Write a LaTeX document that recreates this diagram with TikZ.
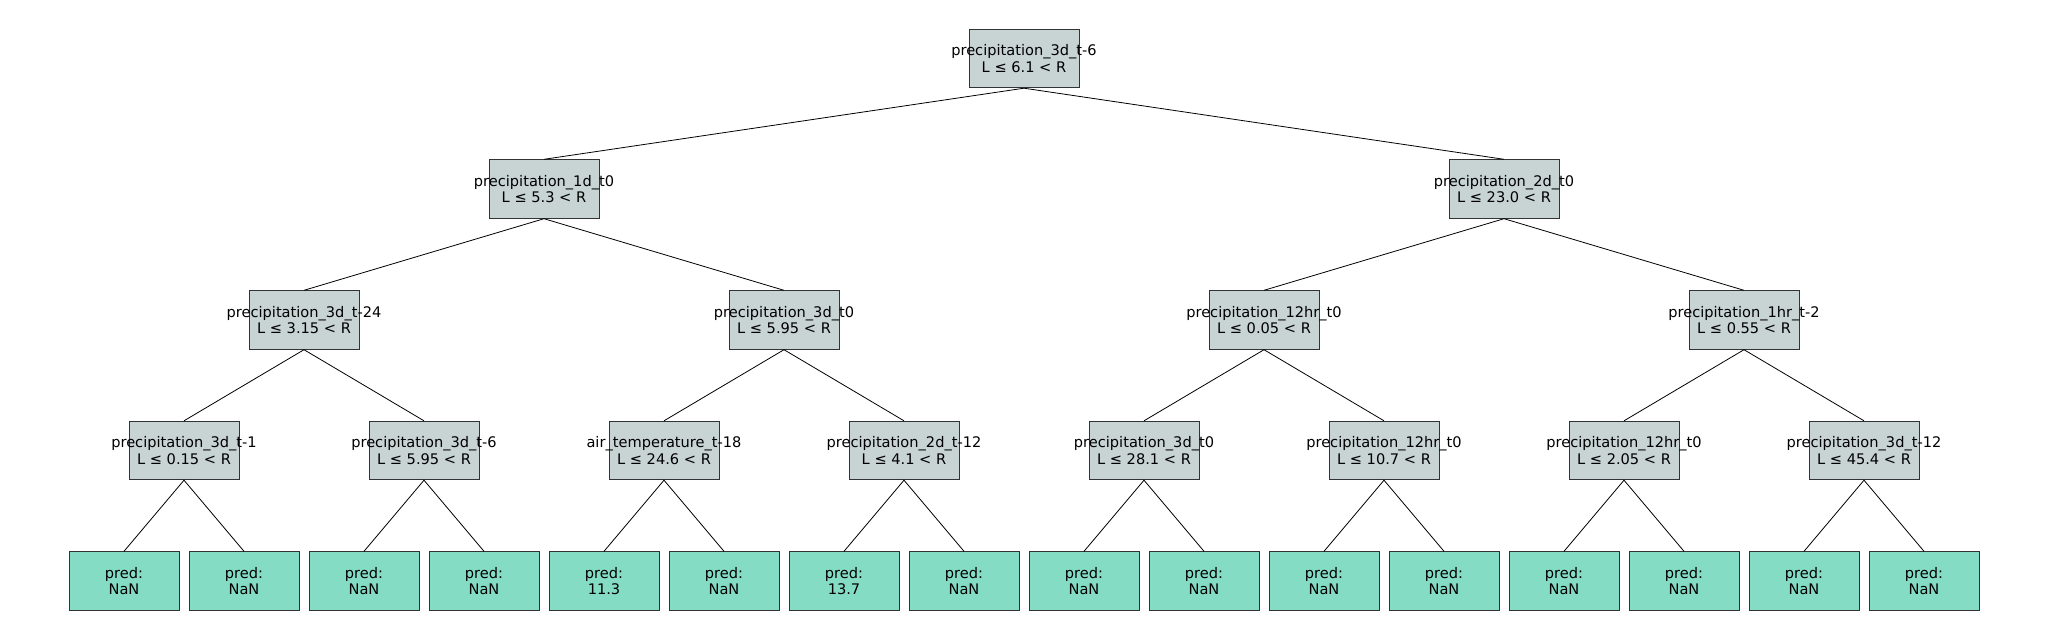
\documentclass[tikz,border=0pt]{standalone}
\usepackage{fontspec}
\setmainfont{DejaVu Sans}
\definecolor{splitgray}{RGB}{200,211,212}
\definecolor{leafteal}{RGB}{133,220,197}
\newcommand{\splittext}[2]{\makebox[0pt]{#1}\\\makebox[0pt]{L ≤ #2 < R}}
\tikzset{
	splitbox/.style={draw=black!80,fill=splitgray,line width=0.9pt,minimum width=110pt,minimum height=58.5pt,inner sep=0pt,align=center,font=\fontsize{14.6}{16.5}\selectfont},
	leafbox/.style={splitbox,fill=leafteal},
	treeline/.style={line width=0.8pt}
}
\begin{document}
\begin{tikzpicture}[x=1pt,y=-1pt]
	\useasboundingbox (0,0) rectangle (2048,640);
	% split nodes, level by level
	\node[splitbox] (n0) at (1024,58.5) {\splittext{precipitation\_3d\_t-6}{6.1}};
	\node[splitbox] (n1) at (544,189) {\splittext{precipitation\_1d\_t0}{5.3}};
	\node[splitbox] (n2) at (1504,189) {\splittext{precipitation\_2d\_t0}{23.0}};
	\node[splitbox] (n3) at (304,320) {\splittext{precipitation\_3d\_t-24}{3.15}};
	\node[splitbox] (n4) at (784,320) {\splittext{precipitation\_3d\_t0}{5.95}};
	\node[splitbox] (n5) at (1264,320) {\splittext{precipitation\_12hr\_t0}{0.05}};
	\node[splitbox] (n6) at (1744,320) {\splittext{precipitation\_1hr\_t-2}{0.55}};
	\node[splitbox] (n7) at (184,450.5) {\splittext{precipitation\_3d\_t-1}{0.15}};
	\node[splitbox] (n8) at (424,450.5) {\splittext{precipitation\_3d\_t-6}{5.95}};
	\node[splitbox] (n9) at (664,450.5) {\splittext{air\_temperature\_t-18}{24.6}};
	\node[splitbox] (n10) at (904,450.5) {\splittext{precipitation\_2d\_t-12}{4.1}};
	\node[splitbox] (n11) at (1144,450.5) {\splittext{precipitation\_3d\_t0}{28.1}};
	\node[splitbox] (n12) at (1384,450.5) {\splittext{precipitation\_12hr\_t0}{10.7}};
	\node[splitbox] (n13) at (1624,450.5) {\splittext{precipitation\_12hr\_t0}{2.05}};
	\node[splitbox] (n14) at (1864,450.5) {\splittext{precipitation\_3d\_t-12}{45.4}};
	% leaves
	\foreach \v [count=\i from 0] in {NaN,NaN,NaN,NaN,11.3,NaN,13.7,NaN,NaN,NaN,NaN,NaN,NaN,NaN,NaN,NaN}
		\node[leafbox] (l\i) at (124+120*\i,581) {pred:\\\v};
	% branches
	\foreach \k in {0,...,6}{
		\pgfmathtruncatemacro\a{2*\k+1}
		\pgfmathtruncatemacro\b{2*\k+2}
		\draw[treeline] (n\k.south)--(n\a.north) (n\k.south)--(n\b.north);
	}
	\foreach \j in {0,...,7}{
		\pgfmathtruncatemacro\p{7+\j}
		\pgfmathtruncatemacro\a{2*\j}
		\pgfmathtruncatemacro\b{2*\j+1}
		\draw[treeline] (n\p.south)--(l\a.north) (n\p.south)--(l\b.north);
	}
\end{tikzpicture}
\end{document}
